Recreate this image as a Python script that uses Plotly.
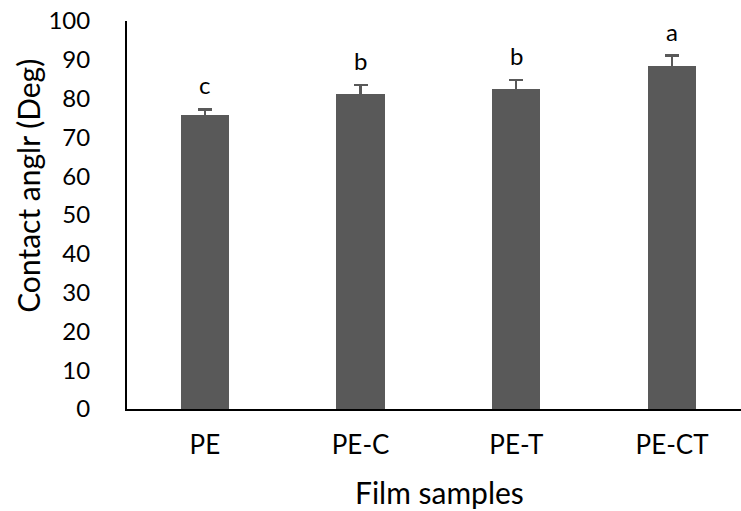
import plotly.graph_objects as go

categories = ["PE", "PE-C", "PE-T", "PE-CT"]
values = [75.7, 81.3, 82.6, 88.3]
errors = [1.5, 2.3, 2.1, 2.8]
letters = ["c", "b", "b", "a"]
y_ticks = list(range(0, 101, 10))

FONT = "Lato, Carlito, Calibri, sans-serif"
BAR = "#595959"

fig = go.Figure()
fig.add_trace(go.Bar(
    x=categories, y=values, width=0.31,
    marker=dict(color=BAR, line=dict(width=0)),
    error_y=dict(type="data", array=errors, color=BAR, thickness=2.2, width=7),
    showlegend=False,
))

for c, v, e, t in zip(categories, values, errors, letters):
    fig.add_annotation(x=c, y=v + e, text=t, showarrow=False, xref="x", yref="y",
                       yanchor="bottom", yshift=8,
                       font=dict(family=FONT, size=24, color="#000"))

fig.update_layout(
    width=741, height=511,
    margin=dict(l=127, r=0, t=21, b=102),
    paper_bgcolor="white", plot_bgcolor="white",
    font=dict(family=FONT, size=24, color="#000"),
    bargap=0,
    xaxis=dict(range=[-0.5, 3.443], showline=True, linecolor="#000", linewidth=2,
               ticks="", showgrid=False, ticklabelstandoff=12, automargin=False,
               ticklabeloverflow="allow", tickfont=dict(size=26)),
    yaxis=dict(range=[0, 100], tickvals=y_ticks, showline=True, linecolor="#000", linewidth=2,
               ticks="", showgrid=False, zeroline=False, ticklabelstandoff=30,
               automargin=False, ticklabeloverflow="allow", tickfont=dict(size=24)),
)

fig.add_annotation(text="Film samples", xref="paper", yref="paper",
                   x=(439 - 127) / 614, y=(409.3 - 492) / 388.3, showarrow=False,
                   xanchor="center", yanchor="middle",
                   font=dict(family=FONT, size=30, color="#000"))
fig.add_annotation(text="Contact anglr (Deg)", xref="paper", yref="paper",
                   x=(28 - 127) / 614, y=(409.3 - 186) / 388.3, showarrow=False, textangle=-90,
                   xanchor="center", yanchor="middle",
                   font=dict(family=FONT, size=30, color="#000"))

fig.write_html("out.html", config={"displayModeBar": False},
               post_script="document.body.style.margin='0';document.body.style.overflow='hidden';")
